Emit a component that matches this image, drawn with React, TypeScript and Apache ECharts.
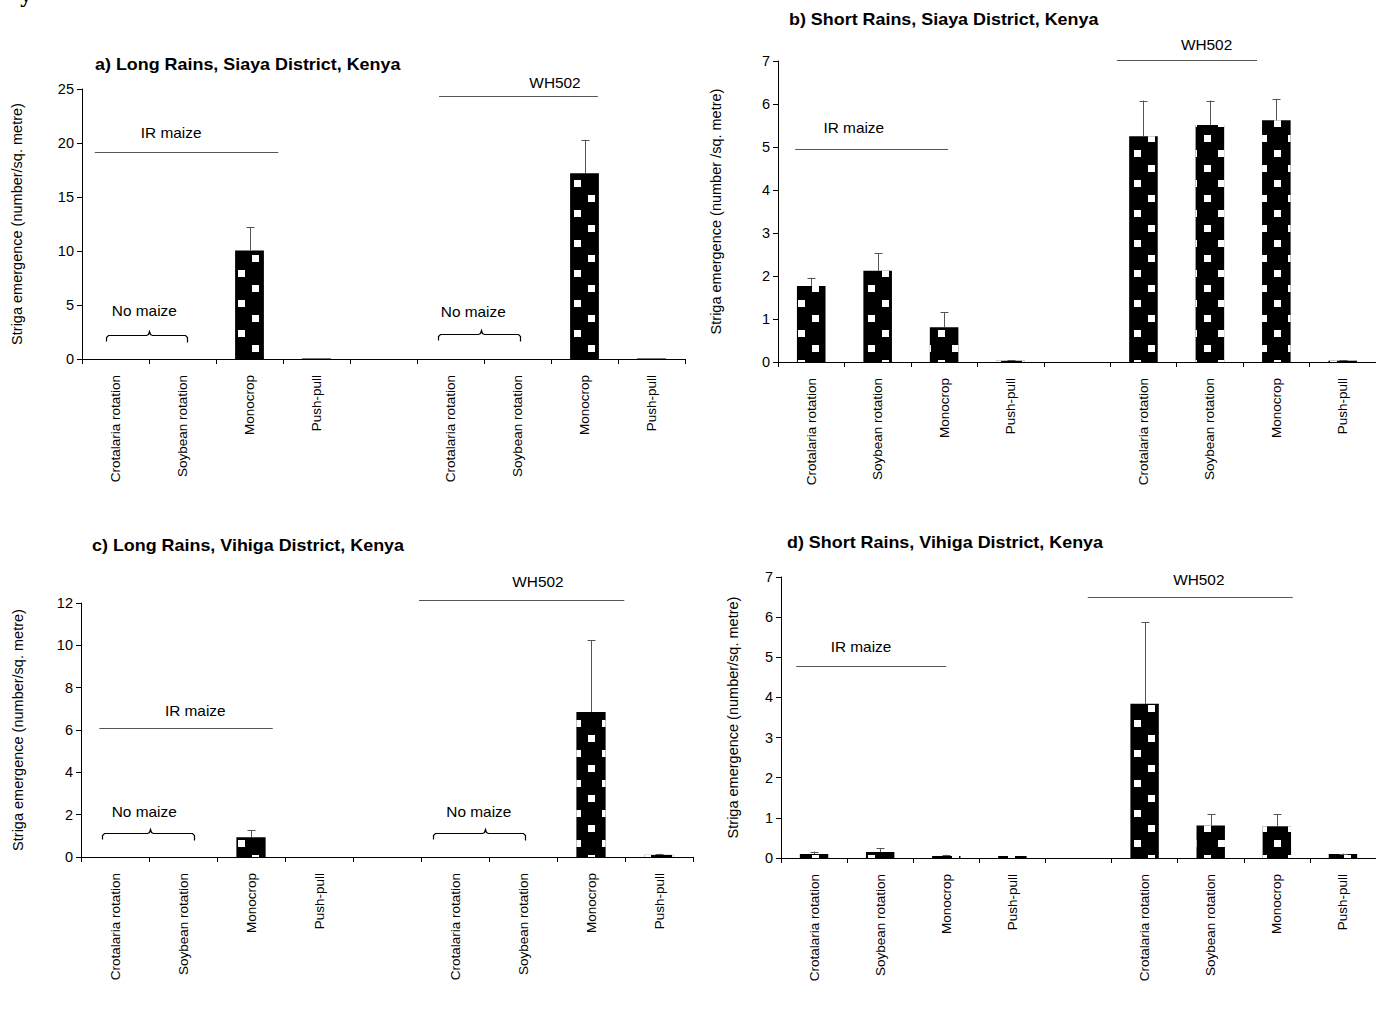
import React, { useEffect, useRef } from 'react';
import * as echarts from 'echarts';

// ---------- data ----------
const categories = [
  'Crotalaria rotation', 'Soybean rotation', 'Monocrop', 'Push-pull', '',
  'Crotalaria rotation', 'Soybean rotation', 'Monocrop', 'Push-pull',
];

// a) Long Rains, Siaya
const meansA = [null, null, 10.05, 0.05, null, null, null, 17.2, 0.05];
const errTopA = [null, null, 12.2, null, null, null, null, 20.3, null];
// b) Short Rains, Siaya
const meansB = [1.77, 2.12, 0.81, 0.03, null, 5.25, 5.51, 5.62, 0.03];
const errTopB = [1.96, 2.53, 1.16, 0.04, null, 6.08, 6.08, 6.12, 0.04];
// c) Long Rains, Vihiga
const meansC = [null, null, 0.93, null, null, null, null, 6.85, 0.1];
const errTopC = [null, null, 1.28, null, null, null, null, 10.25, 0.15];
// d) Short Rains, Vihiga
const meansD = [0.1, 0.15, 0.05, 0.05, null, 3.84, 0.81, 0.79, 0.1];
const errTopD = [0.16, 0.24, 0.08, null, null, 5.87, 1.09, 1.09, 0.11];

const titles = [
  'a) Long Rains, Siaya District, Kenya',
  'b) Short Rains, Siaya District, Kenya',
  'c) Long Rains, Vihiga District, Kenya',
  'd) Short Rains, Vihiga District, Kenya',
];
const yNames = [
  'Striga emergence (number/sq. metre)',
  'Striga emergence (number /sq. metre)',
  'Striga emergence (number/sq. metre)',
  'Striga emergence (number/sq. metre)',
];
const yMaxes = [25, 7, 12, 7];
const yIntervals = [5, 1, 2, 1];

// annotation positions in data units (x: 0..9 category span, y: axis value)
const groupLinesA = [[0.19, 2.93, 19.2], [5.33, 7.7, 24.35]];
const groupLinesB = [[0.26, 2.56, 4.95], [5.1, 7.21, 7.02]];
const groupLinesC = [[0.27, 2.82, 6.09], [4.97, 7.99, 12.14]];
const groupLinesD = [[0.23, 2.5, 4.79], [4.64, 7.74, 6.51]];

const noteTextsA = [['IR maize', 1.33, 20.9], ['WH502', 7.06, 25.5], ['No maize', 0.93, 4.44], ['No maize', 5.84, 4.3]];
const noteTextsB = [['IR maize', 1.14, 5.44], ['WH502', 6.45, 7.37]];
const noteTextsC = [['IR maize', 1.68, 6.9], ['WH502', 6.72, 12.99], ['No maize', 0.93, 2.13], ['No maize', 5.85, 2.13]];
const noteTextsD = [['IR maize', 1.21, 5.26], ['WH502', 6.32, 6.93]];

const bracesA = [[0.36, 1.0, 1.57, 2.22], [5.31, 5.96, 6.54, 2.3]];
const bracesB: number[][] = [];
const bracesC = [[0.31, 1.02, 1.66, 1.13], [5.18, 5.94, 6.53, 1.13]];
const bracesD: number[][] = [];

// ---------- layout ----------
const FONT = "'Liberation Sans', Arial, Helvetica, sans-serif";
const layouts = [
  { grid: { left: 82, top: 89, width: 603, height: 270 }, title: [95, 65], nameGap: 58 },
  { grid: { left: 778, top: 61, width: 598, height: 301 }, title: [789, 20], nameGap: 55 },
  { grid: { left: 81, top: 603, width: 612, height: 254 }, title: [92, 546], nameGap: 56 },
  { grid: { left: 781, top: 577, width: 597, height: 281 }, title: [787, 543], nameGap: 41 },
];

const panelData = [
  { means: meansA, errs: errTopA, lines: groupLinesA, texts: noteTextsA, braces: bracesA },
  { means: meansB, errs: errTopB, lines: groupLinesB, texts: noteTextsB, braces: bracesB },
  { means: meansC, errs: errTopC, lines: groupLinesC, texts: noteTextsC, braces: bracesC },
  { means: meansD, errs: errTopD, lines: groupLinesD, texts: noteTextsD, braces: bracesD },
];

const px = (v: number) => Math.round(v) + 0.5;

function buildOption() {
  const grid: any[] = [];
  const xAxis: any[] = [];
  const yAxis: any[] = [];
  const series: any[] = [];
  const graphic: any[] = [];

  panelData.forEach((p, i) => {
    const L = layouts[i];
    grid.push({ ...L.grid, containLabel: false });
    xAxis.push({
      type: 'category', gridIndex: i, data: categories,
      axisLine: { lineStyle: { color: '#000', width: 1 } },
      axisTick: { show: true, interval: 0, length: 5, lineStyle: { color: '#000' } },
      axisLabel: { interval: 0, rotate: 90, margin: 16, fontSize: 13.5, fontFamily: FONT, color: '#000' },
      splitLine: { show: false },
    });
    xAxis.push({ type: 'value', gridIndex: i, min: 0, max: 9, show: false });
    yAxis.push({
      type: 'value', gridIndex: i, min: 0, max: yMaxes[i], interval: yIntervals[i],
      name: yNames[i], nameLocation: 'middle', nameGap: L.nameGap,
      nameTextStyle: { fontSize: 14.5, fontFamily: FONT, color: '#000' },
      axisLine: { show: true, lineStyle: { color: '#000', width: 1 } },
      axisTick: { show: true, length: 5, lineStyle: { color: '#000' } },
      axisLabel: { fontSize: 14.5, fontFamily: FONT, color: '#000', margin: 8 },
      splitLine: { show: false },
    });

    series.push({
      type: 'bar', xAxisIndex: 2 * i, yAxisIndex: i, data: p.means, barWidth: '43%',
      itemStyle: {
        color: '#000',
        decal: {
          symbol: 'rect', symbolSize: 1, color: '#fff',
          dashArrayX: [[7, 21], [0, 14, 7, 7]], dashArrayY: [7, 8], rotation: 0,
        },
      },
      silent: true,
    });

    const errData: any[] = [];
    p.errs.forEach((e, k) => { if (e != null && p.means[k] != null) errData.push([k, p.means[k], e]); });
    series.push({
      type: 'custom', xAxisIndex: 2 * i, yAxisIndex: i, data: errData, clip: false, z: 5,
      encode: { x: 0, y: [1, 2] },
      renderItem: (params: any, api: any) => {
        const x = api.value(0);
        const b = api.coord([x, api.value(1)]);
        const t = api.coord([x, api.value(2)]);
        const cx = px(b[0]);
        return {
          type: 'group', children: [
            { type: 'line', shape: { x1: cx, y1: b[1], x2: cx, y2: t[1] }, style: { stroke: '#555', lineWidth: 1 } },
            { type: 'line', shape: { x1: cx - 4, y1: px(t[1]), x2: cx + 4, y2: px(t[1]) }, style: { stroke: '#555', lineWidth: 1 } },
          ],
        };
      },
    });

    series.push({
      type: 'custom', xAxisIndex: 2 * i + 1, yAxisIndex: i, data: p.lines, clip: false, silent: true,
      encode: { x: [0, 1], y: 2 },
      renderItem: (params: any, api: any) => {
        const a = api.coord([api.value(0), api.value(2)]);
        const c = api.coord([api.value(1), api.value(2)]);
        return { type: 'line', shape: { x1: a[0], y1: px(a[1]), x2: c[0], y2: px(c[1]) }, style: { stroke: '#555', lineWidth: 1 } };
      },
    });

    const texts = p.texts;
    series.push({
      type: 'custom', xAxisIndex: 2 * i + 1, yAxisIndex: i,
      data: texts.map((t) => [t[1], t[2]]), clip: false, silent: true,
      encode: { x: 0, y: 1 },
      renderItem: (params: any, api: any) => {
        const pt = api.coord([api.value(0), api.value(1)]);
        return {
          type: 'text', x: pt[0], y: pt[1], scaleX: 1.1,
          style: { text: texts[params.dataIndex][0], fontSize: 14, fontFamily: FONT, fill: '#000', align: 'center', verticalAlign: 'middle' },
        };
      },
    });

    if (p.braces.length) {
      series.push({
        type: 'custom', xAxisIndex: 2 * i + 1, yAxisIndex: i, data: p.braces, clip: false, silent: true,
        encode: { x: [0, 1, 2], y: 3 },
        renderItem: (params: any, api: any) => {
          const y = api.value(3);
          const a = api.coord([api.value(0), y]);
          const m = api.coord([api.value(1), y]);
          const c = api.coord([api.value(2), y]);
          const yy = px(a[1]);
          const x1 = px(a[0]), xm = px(m[0]), x2 = px(c[0]);
          return {
            type: 'polyline',
            shape: {
              points: [
                [x1, yy + 6], [x1, yy + 2], [x1 + 2, yy], [xm - 3, yy], [xm - 1, yy - 1], [xm, yy - 4],
                [xm + 1, yy - 1], [xm + 3, yy], [x2 - 2, yy], [x2, yy + 2], [x2, yy + 7],
              ],
            },
            style: { stroke: '#000', lineWidth: 1.2, fill: 'none' },
          };
        },
      });
    }

    graphic.push({
      type: 'text', x: L.title[0], y: L.title[1], scaleX: 1.12,
      style: { text: titles[i], font: `bold 16px ${FONT}`, fill: '#000', verticalAlign: 'middle', align: 'left' },
    });
  });

  graphic.push({ type: 'text', x: 20, y: -17, style: { text: 'y', font: "22px 'DejaVu Serif', serif", fill: '#000' } });

  return { animation: false, backgroundColor: '#fff', grid, xAxis, yAxis, series, graphic };
}

export default function App() {
  const ref = useRef<HTMLDivElement>(null);
  useEffect(() => {
    if (!ref.current) return;
    const chart = echarts.init(ref.current, undefined, { renderer: 'svg' });
    chart.setOption(buildOption() as any);
    return () => chart.dispose();
  }, []);
  return <div ref={ref} style={{ position: 'absolute', left: 0, top: 0, width: 1376, height: 1013 }} />;
}
